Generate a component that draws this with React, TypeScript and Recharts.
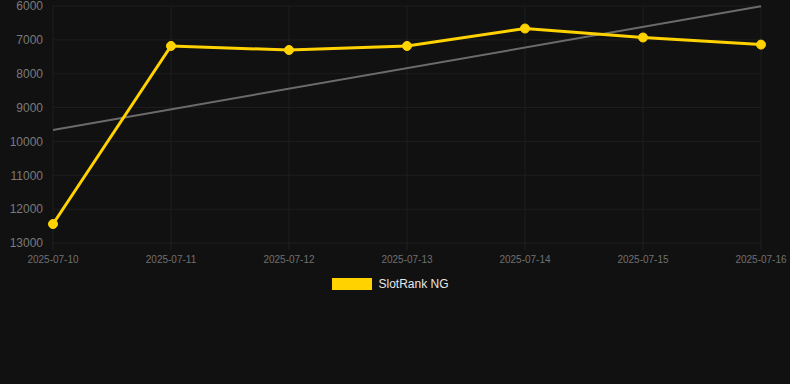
import React from "react";
import { LineChart, Line, XAxis, YAxis, CartesianGrid, Legend } from "recharts";

const dates = ["2025-07-10", "2025-07-11", "2025-07-12", "2025-07-13", "2025-07-14", "2025-07-15", "2025-07-16"];
const rankValues = [12440, 7180, 7300, 7180, 6665, 6930, 7140];
const trendValues: (number | null)[] = [9660, null, null, null, null, null, 6010];
const yTicks = [6000, 7000, 8000, 9000, 10000, 11000, 12000, 13000];
const seriesName = "SlotRank NG";

const data = dates.map((d, i) => ({ date: d, rank: rankValues[i], trend: trendValues[i] }));

const LegendContent = () => (
  <div style={{ display: "flex", justifyContent: "center", alignItems: "center", paddingTop: 4, paddingLeft: 20, fontFamily: "Arial, 'Liberation Sans', sans-serif" }}>
    <span style={{ display: "inline-block", width: 40, height: 12, background: "#FFD200", marginRight: 6 }} />
    <span style={{ color: "#e6e6e6", fontSize: 12 }}>{seriesName}</span>
  </div>
);

export default function App() {
  return (
    <div style={{ position: "absolute", left: 0, top: 0, width: 790, height: 384, background: "#111111" }}>
      <LineChart width={790} height={384} data={data} margin={{ top: 6, right: 29, bottom: 89, left: 0 }}>
        <CartesianGrid stroke="#1e1e1e" strokeWidth={1} />
        <XAxis
          dataKey="date"
          axisLine={false}
          tickLine={{ stroke: "#222222" }}
          tickSize={7}
          tickMargin={6}
          tick={{ fill: "#707070", fontSize: 10, fontFamily: "Arial, 'Liberation Sans', sans-serif" }}
          height={30}
          interval={0}
        />
        <YAxis
          reversed
          domain={[6000, 13000]}
          ticks={yTicks}
          axisLine={false}
          tickLine={false}
          tickMargin={4}
          width={53}
          tick={{ fill: "#7a7a7a", fontSize: 12, fontFamily: "Arial, 'Liberation Sans', sans-serif" }}
          interval={0}
        />
        <Legend verticalAlign="bottom" height={22} content={<LegendContent />} />
        <Line
          dataKey="trend"
          stroke="#6b6b6b"
          strokeWidth={2}
          dot={false}
          connectNulls
          isAnimationActive={false}
          legendType="none"
        />
        <Line
          dataKey="rank"
          name={seriesName}
          stroke="#FFD200"
          strokeWidth={3}
          dot={{ r: 4.5, fill: "#FFD200", stroke: "#FFD200", strokeWidth: 1 }}
          activeDot={false}
          isAnimationActive={false}
        />
      </LineChart>
    </div>
  );
}
